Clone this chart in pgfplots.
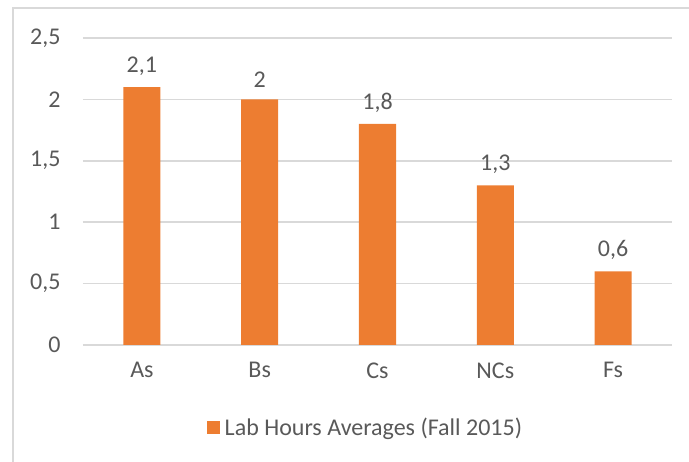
\documentclass[border=0pt]{standalone}
\usepackage{pgfplots}
\pgfplotsset{compat=1.18}
\usepackage{fontspec}
\setmainfont{Carlito}
\definecolor{barorange}{HTML}{ED7D31}
\definecolor{gridgray}{HTML}{D9D9D9}
\definecolor{txtgray}{HTML}{595959}
\begin{document}
\begin{tikzpicture}
  % page frame = 689pt x 462pt
  \useasboundingbox (0pt,0pt) rectangle (689pt,462pt);
  % chart border (left and top edges are visible)
  \draw[gridgray, line width=1.5pt] (13pt,-2pt) -- (13pt,454pt) -- (691pt,454pt);
  \begin{axis}[
    at={(83pt,117pt)}, anchor=south west,
    scale only axis,
    width=589pt, height=307pt,
    ybar, bar width=37pt,
    xmin=-0.5, xmax=4.5,
    ymin=0, ymax=2.5,
    ytick={0,0.5,1,1.5,2,2.5},
    xtick=data,
    xticklabels={As,Bs,Cs,NCs,Fs},
    axis lines*=left,
    y axis line style={draw=none},
    x axis line style={gridgray, line width=1.5pt},
    major tick length=0pt,
    ymajorgrids,
    grid style={gridgray, line width=1.5pt},
    font=\fontsize{24}{28}\selectfont,
    tick label style={txtgray},
    yticklabel style={xshift=-19pt},
    xticklabel style={yshift=-14pt},
    /pgf/number format/.cd, use comma, fixed, precision=1, assume math mode=true,
    /pgfplots/.cd,
    nodes near coords,
    every node near coord/.append style={txtgray, yshift=8pt},
    legend style={at={(0.482,-0.27)}, anchor=center, draw=none, fill=none,
      text=txtgray, font=\fontsize{24}{28}\selectfont, nodes={inner xsep=5pt}},
    legend image code/.code={\fill[barorange] (0pt,-6.5pt) rectangle (13pt,6.5pt);},
  ]
    \addplot[fill=barorange, draw=none] coordinates {
      (0,2.1) (1,2.0) (2,1.8) (3,1.3) (4,0.6)
    };
    \addlegendentry{Lab Hours Averages (Fall 2015)}
  \end{axis}
\end{tikzpicture}
\end{document}
